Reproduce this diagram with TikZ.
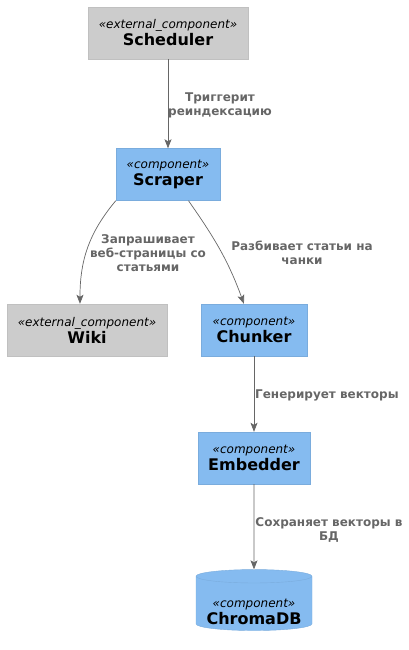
\documentclass[tikz,border=0pt]{standalone}
\usepackage{fontspec}
\setmainfont{DejaVu Sans}
\usetikzlibrary{arrows.meta,shapes.geometric}
\definecolor{compblue}{HTML}{85BBF0}
\definecolor{extgrey}{HTML}{CCCCCC}
\definecolor{linkgrey}{HTML}{666666}
\newcommand{\stereo}[2]{{\fontsize{12}{17}\selectfont\itshape«#1»}\\[1pt]{\fontsize{16}{17}\selectfont\bfseries #2}}

\begin{document}
\begin{tikzpicture}[
        x=1pt, y=-1pt,
        every node/.style={align=center, inner sep=0pt},
        comp/.style={rectangle, draw=compblue!92!black, fill=compblue, minimum height=52pt},
        extcomp/.style={rectangle, draw=extgrey!94!black, fill=extgrey, minimum width=160pt, minimum height=52pt},
        dbcomp/.style={cylinder, shape border rotate=90, aspect=0.14, draw=compblue!92!black, fill=compblue, text width=96pt, minimum width=116pt, minimum height=61pt},
        dbtext/.style={yshift=-8.5pt},
        link/.style={draw=linkgrey, line width=0.7pt, -{Stealth[length=9pt,width=7pt,inset=2pt]}},
        linklabel/.style={text=linkgrey, font=\fontsize{12}{14}\selectfont\bfseries}
        ]
        \path[use as bounding box] (0,0) rectangle (409,650);

        \node [extcomp] (scheduler) at (168,33) {\stereo{external\_component}{Scheduler}};
        \node [comp, minimum width=104pt] (scraper) at (168,174.5) {\stereo{component}{Scraper}};
        \node [extcomp] (wiki) at (87,330) {\stereo{external\_component}{Wiki}};
        \node [comp, minimum width=106pt] (chunker) at (254,330) {\stereo{component}{Chunker}};
        \node [comp, minimum width=112pt] (embedder) at (254,458) {\stereo{component}{Embedder}};
        \node [dbcomp] (chroma) at (254,603.5) {};
        \node [dbtext] (chromatext) at (chroma.center) {\stereo{component}{ChromaDB}};

        \draw[link] (scheduler) -- (scraper);
        \draw[link] (scraper.south west) to[out=-130,in=90] (wiki.105);
        \draw[link] (scraper.-52) to[out=-55,in=110] (chunker.111);
        \draw[link] (chunker) -- (embedder);
        \draw[link] (embedder) -- (chroma);

        % подписи связей
        \node [linklabel] (lbltrigger) at (220,105) {Триггерит\\реиндексацию};
        \node [linklabel] (lblfetch) at (148,253) {Запрашивает\\веб-страницы со\\статьями};
        \node [linklabel] (lblsplit) at (302,252.5) {Разбивает статьи на\\чанки};
        \node [linklabel, anchor=west] (lblembed) at (255,395) {Генерирует векторы};
        \node [linklabel] (lblstore) at (329,529.5) {Сохраняет векторы в\\БД};
    \end{tikzpicture}
\end{document}
